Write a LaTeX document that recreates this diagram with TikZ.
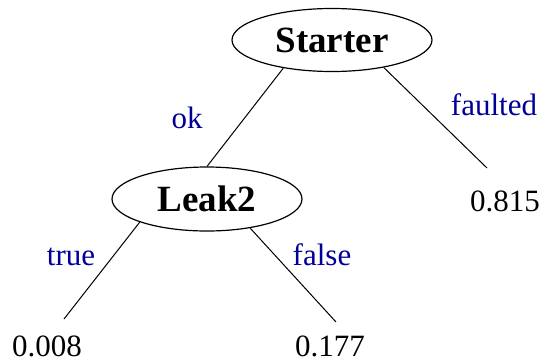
\documentclass[tikz,border=0pt]{standalone}
\usepackage{fontspec}
\setmainfont{Liberation Serif}
\usetikzlibrary{shapes.geometric}
\definecolor{lblblue}{RGB}{0,0,150}
\begin{document}
\begin{tikzpicture}[x=1pt,y=-1pt,
  decision/.style={ellipse,draw,line width=1.2pt,inner sep=0pt,
    font=\fontsize{37}{41}\selectfont\bfseries},
  leaf/.style={inner sep=0pt,font=\fontsize{31}{36}\selectfont},
  edgelbl/.style={inner sep=0pt,anchor=base,text=lblblue,font=\fontsize{31}{36}\selectfont},
  branch/.style={line width=1pt}]
\useasboundingbox (0,0) rectangle (543,362);
\node[decision,minimum width=200pt,minimum height=63pt] (starter) at (332,40) {Starter};
\node[decision,minimum width=190pt,minimum height=64pt] (leak) at (207,199) {Leak2};
\node[leaf] (v815) at (505,201) {0.815};
\node[leaf] (v008) at (47,346) {0.008};
\node[leaf] (v177) at (330,346) {0.177};
\coordinate (e815) at (487,168);
\coordinate (e008) at (64,319);
\coordinate (e177) at (336,322);
\draw[branch] (starter.210) -- (leak.north);
\draw[branch] (starter.332.6) -- (e815);
\draw[branch] (leak.199.9) -- (e008);
\draw[branch] (leak.326.9) -- (e177);
\node[edgelbl] (lok) at (187,128) {ok};
\node[edgelbl] (lfaulted) at (494,115) {faulted};
\node[edgelbl] (ltrue) at (71,265) {true};
\node[edgelbl] (lfalse) at (322,265) {false};
\end{tikzpicture}
\end{document}
